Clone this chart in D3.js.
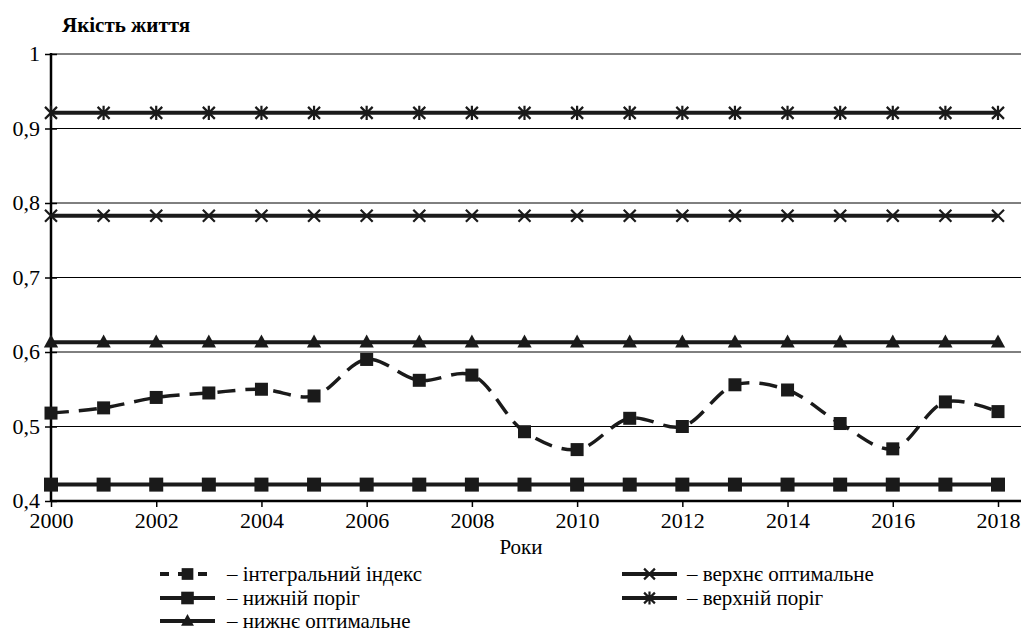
<!DOCTYPE html>
<html>
<head>
<meta charset="utf-8">
<script src="https://cdn.jsdelivr.net/npm/d3@7"></script>
<style>
  body { margin: 0; background: #fff; }
  svg text { font-family: "Liberation Serif", "Times New Roman", Tinos, "DejaVu Serif", "Noto Serif", serif; }
</style>
</head>
<body>
<svg id="chart" width="1021" height="639"></svg>
<script>
// data
const years = d3.range(2000, 2019);
const integralIndex = [0.518, 0.525, 0.539, 0.545, 0.550, 0.541, 0.590, 0.562, 0.569, 0.493,
  0.469, 0.511, 0.500, 0.556, 0.549, 0.504, 0.470, 0.533, 0.520];
const lowerThreshold = years.map(() => 0.422);
const lowerOptimal = years.map(() => 0.613);
const upperOptimal = years.map(() => 0.783);
const upperThreshold = years.map(() => 0.921);
const yTicks = [0.4, 0.5, 0.6, 0.7, 0.8, 0.9, 1];
const xTicks = d3.range(2000, 2019, 2);
const legendLabels = [
  '– інтегральний індекс',
  '– нижній поріг',
  '– нижнє оптимальне',
  '– верхнє оптимальне',
  '– верхній поріг'
];

const svg = d3.select('#chart');

const x = d3.scaleLinear().domain([2000, 2018]).range([51, 998]);
const y = d3.scaleLinear().domain([0.4, 1]).range([501, 54]);
const plotRight = 1021;

// title
svg.append('text')
  .attr('x', 62)
  .attr('y', 32)
  .attr('font-weight', 'bold')
  .attr('font-size', 21)
  .text('Якість життя');

// gridlines
svg.append('g')
  .selectAll('line')
  .data(yTicks)
  .enter()
  .append('line')
    .attr('x1', x(2000))
    .attr('x2', plotRight)
    .attr('y1', (d) => y(d))
    .attr('y2', (d) => y(d))
    .attr('stroke', '#000')
    .attr('stroke-width', 1);

// y axis
const yAxis = svg.append('g')
  .attr('transform', `translate(${x(2000)}, 0)`)
  .call(d3.axisLeft(y).tickValues(yTicks).tickSize(6).tickPadding(5)
    .tickFormat((d) => (d === 1 ? '1' : d3.format('.1f')(d).replace('.', ','))));
yAxis.attr('font-family', null);
yAxis.select('.domain').remove();
yAxis.selectAll('.tick line').attr('x1', -6).attr('x2', 6).attr('stroke-width', 1.5);
yAxis.selectAll('.tick text').attr('font-size', 22).attr('fill', '#000').attr('dy', '0.3em');
svg.append('line')
  .attr('x1', x(2000)).attr('x2', x(2000))
  .attr('y1', y(1) - 1).attr('y2', y(0.4) + 1)
  .attr('stroke', '#000').attr('stroke-width', 2.5);

// x axis
const xAxis = svg.append('g')
  .attr('transform', `translate(0, ${y(0.4)})`)
  .call(d3.axisBottom(x).tickValues(xTicks).tickSize(6).tickPadding(5).tickFormat(d3.format('d')));
xAxis.attr('font-family', null);
xAxis.select('.domain').remove();
xAxis.selectAll('.tick line').attr('stroke-width', 1.5);
xAxis.selectAll('.tick text').attr('font-size', 22).attr('fill', '#000');
svg.append('line')
  .attr('x1', x(2000)).attr('x2', plotRight)
  .attr('y1', y(0.4)).attr('y2', y(0.4))
  .attr('stroke', '#000').attr('stroke-width', 2.5);

svg.append('text')
  .attr('x', 521)
  .attr('y', 554)
  .attr('text-anchor', 'middle')
  .attr('font-size', 21)
  .text('Роки');

// marker shapes
const markers = {
  square: (g, s) => g.append('rect').attr('x', -s / 2).attr('y', -s / 2).attr('width', s).attr('height', s).attr('fill', '#1a1a1a'),
  triangle: (g, s) => g.append('path').attr('d', `M0,${-s * 0.6}L${s * 0.55},${s * 0.4}L${-s * 0.55},${s * 0.4}Z`).attr('fill', '#1a1a1a'),
  cross: (g, s) => g.append('path').attr('d', `M${-s / 2},${-s / 2}L${s / 2},${s / 2}M${s / 2},${-s / 2}L${-s / 2},${s / 2}`)
    .attr('stroke', '#1a1a1a').attr('stroke-width', 2.2).attr('fill', 'none'),
  star: (g, s) => g.append('path').attr('d', `M${-s / 2},${-s / 2}L${s / 2},${s / 2}M${s / 2},${-s / 2}L${-s / 2},${s / 2}M0,${-s * 0.6}L0,${s * 0.6}`)
    .attr('stroke', '#1a1a1a').attr('stroke-width', 2.2).attr('fill', 'none')
};

const series = [
  { values: integralIndex, marker: 'square', size: 13, dash: '18,10', curve: d3.curveCatmullRom.alpha(0.5) },
  { values: lowerThreshold, marker: 'square', size: 14, dash: null, curve: d3.curveLinear },
  { values: lowerOptimal, marker: 'triangle', size: 13, dash: null, curve: d3.curveLinear },
  { values: upperOptimal, marker: 'cross', size: 12, dash: null, curve: d3.curveLinear },
  { values: upperThreshold, marker: 'star', size: 12, dash: null, curve: d3.curveLinear }
];

series.forEach((s) => {
  const line = d3.line()
    .x((d, i) => x(years[i]))
    .y((d) => y(d))
    .curve(s.curve);

  svg.append('path')
    .datum(s.values)
    .attr('d', line)
    .attr('fill', 'none')
    .attr('stroke', '#1a1a1a')
    .attr('stroke-width', s.dash ? 3.5 : 4)
    .attr('stroke-dasharray', s.dash);

  s.values.forEach((v, i) => {
    const g = svg.append('g').attr('transform', `translate(${x(years[i])}, ${y(v)})`);
    markers[s.marker](g, s.size);
  });
});

// legend
const legendPos = [
  { sx: 160, tx: 227, y: 574 },
  { sx: 160, tx: 227, y: 598 },
  { sx: 160, tx: 227, y: 621 },
  { sx: 622, tx: 687, y: 574 },
  { sx: 622, tx: 687, y: 598 }
];

series.forEach((s, i) => {
  const p = legendPos[i];
  const lg = svg.append('g');
  lg.append('line')
    .attr('x1', p.sx).attr('x2', p.sx + 55)
    .attr('y1', p.y).attr('y2', p.y)
    .attr('stroke', '#1a1a1a')
    .attr('stroke-width', 4)
    .attr('stroke-dasharray', s.dash ? '9,9,11,9,9' : null);
  const g = lg.append('g').attr('transform', `translate(${p.sx + 27.5}, ${p.y})`);
  markers[s.marker](g, s.size * 0.9);
  lg.append('text')
    .attr('x', p.tx)
    .attr('y', p.y)
    .attr('dy', '0.33em')
    .attr('font-size', 21)
    .text(legendLabels[i]);
});
</script>
</body>
</html>
